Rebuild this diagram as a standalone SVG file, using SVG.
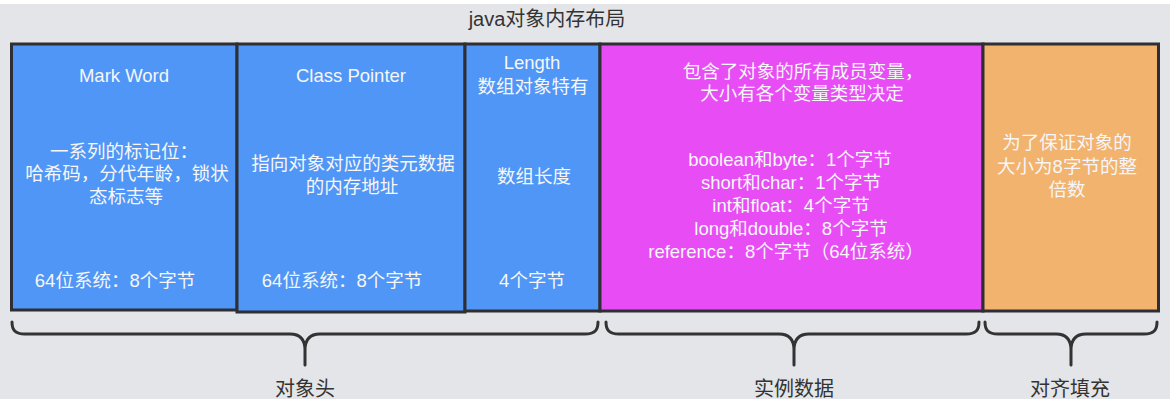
<svg xmlns="http://www.w3.org/2000/svg" width="1170" height="410" viewBox="0 0 1170 410">
<style>
.box{stroke:#2f2f33;stroke-width:3}
.blue{fill:#4f96f6}
.mag{fill:#e84df5}
.org{fill:#f2b36e}
text{font-family:"Liberation Sans","Noto Sans CJK SC",sans-serif}
.t{fill:#f6f6f8;font-size:18.5px;text-anchor:middle}
.d{fill:#333;font-size:20px;text-anchor:middle}
.brace{fill:none;stroke:#333;stroke-width:3;stroke-linecap:round;stroke-linejoin:round}
</style>
<rect x="0" y="0" width="1170" height="410" fill="#ffffff"/>
<rect x="0" y="4" width="1170" height="395" fill="#e4e5e8"/>
<text class="d" x="547" y="26">java对象内存布局</text>

<g id="mark-word">
<rect class="box blue" x="11.5" y="44" width="225.5" height="266"/>
<text class="t" x="124" y="82">Mark Word</text>
<text class="t" x="124" y="158">一系列的标记位：</text>
<text class="t" x="127" y="180">哈希码，分代年龄，锁状</text>
<text class="t" x="126" y="203">态标志等</text>
<text class="t" x="115" y="287">64位系统：8个字节</text>
</g>

<g id="class-pointer">
<rect class="box blue" x="237" y="44" width="228" height="268"/>
<text class="t" x="351" y="82">Class Pointer</text>
<text class="t" x="353" y="170">指向对象对应的类元数据</text>
<text class="t" x="352" y="193">的内存地址</text>
<text class="t" x="342" y="287">64位系统：8个字节</text>
</g>

<g id="length">
<rect class="box blue" x="465" y="44" width="135" height="267"/>
<text class="t" x="532" y="69">Length</text>
<text class="t" x="533" y="93">数组对象特有</text>
<text class="t" x="534" y="183">数组长度</text>
<text class="t" x="532" y="287">4个字节</text>
</g>

<g id="instance-data">
<rect class="box mag" x="600" y="44" width="383" height="267"/>
<text class="t" x="803" y="78">包含了对象的所有成员变量，</text>
<text class="t" x="802" y="100">大小有各个变量类型决定</text>
<text class="t" x="790" y="166">boolean和byte：1个字节</text>
<text class="t" x="791" y="189">short和char：1个字节</text>
<text class="t" x="791" y="212">int和float：4个字节</text>
<text class="t" x="791" y="235">long和double：8个字节</text>
<text class="t" x="786" y="258">reference：8个字节（64位系统）</text>
</g>

<g id="padding">
<rect class="box org" x="983" y="44" width="175.5" height="267"/>
<text class="t" x="1067" y="149">为了保证对象的</text>
<text class="t" x="1067" y="173">大小为8字节的整</text>
<text class="t" x="1067" y="196">倍数</text>
</g>

<g id="connectors">
<path class="brace" d="M12,322 C12,330 15,334 25,334 L290,334 C300,334 305,339 305,350 L305,365 M305,350 C305,339 310,334 320,334 L585,334 C595,334 598,330 598,322"/>
<path class="brace" d="M606,322 C606,330 609,334 619,334 L779,334 C789,334 794,339 794,350 L794,365 M794,350 C794,339 799,334 809,334 L966,334 C976,334 979,330 979,322"/>
<path class="brace" d="M985,322 C985,330 988,334 998,334 L1056,334 C1066,334 1071,339 1071,350 L1071,365 M1071,350 C1071,339 1076,334 1086,334 L1144,334 C1154,334 1157,330 1157,322"/>
</g>

<g id="labels">
<text class="d" x="305" y="396">对象头</text>
<text class="d" x="794" y="396">实例数据</text>
<text class="d" x="1070" y="396">对齐填充</text>
</g>
</svg>
